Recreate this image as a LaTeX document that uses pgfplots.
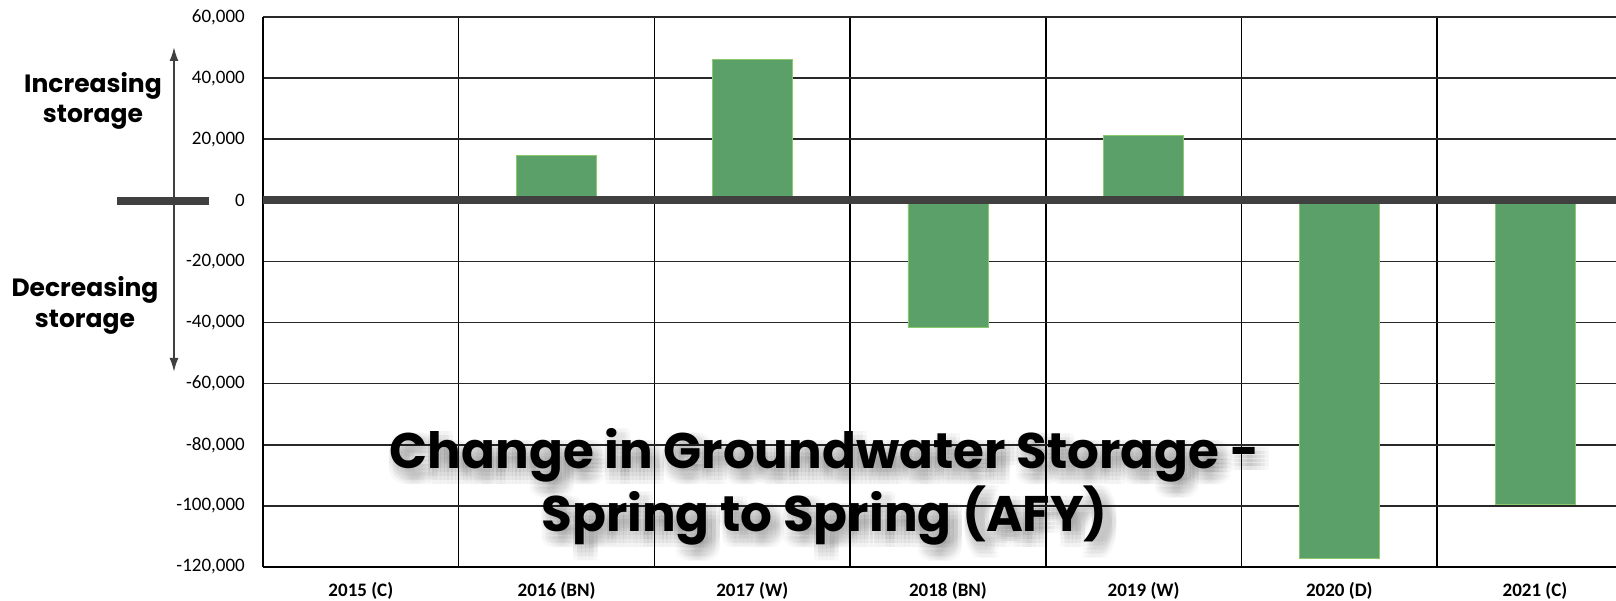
\documentclass[border=0pt]{standalone}
\usepackage{fontspec}
\setmainfont{Carlito}
\newfontfamily\gothic{Poppins}
\usepackage{pgfplots}
\pgfplotsset{compat=1.18}
\usetikzlibrary{arrows.meta}

\definecolor{barg}{RGB}{91,160,104}
\definecolor{zline}{RGB}{64,64,64}
\definecolor{gridc}{RGB}{40,40,40}

\begin{document}
\begin{tikzpicture}
\begin{axis}[
  at={(0pt,0pt)}, anchor=south west,
  width=1353pt, height=550pt,
  scale only axis,
  xmin=-0.5, xmax=6.4137,
  ymin=-120000, ymax=60000,
  scaled y ticks=false,
  axis x line*=bottom, axis y line*=left,
  axis line style={-, line width=1.6pt, black},
  every outer x axis line/.append style={-},
  every outer y axis line/.append style={-},
  xtick={0,...,6},
  xticklabels={2015 (C),2016 (BN),2017 (W),2018 (BN),2019 (W),2020 (D),2021 (C)},
  minor xtick={0.5,1.5,...,5.5},
  xminorgrids,
  ytick={-120000,-100000,...,60000},
  yticklabels={{-120,000},{-100,000},{-80,000},{-60,000},{-40,000},{-20,000},{0},{20,000},{40,000},{60,000}},
  ymajorgrids,
  major grid style={line width=1.6pt, gridc},
  minor grid style={line width=1.6pt, black},
  major tick length=0pt, minor tick length=0pt,
  yticklabel style={font=\fontsize{19}{19}\selectfont, inner sep=0pt, xshift=-18pt},
  xticklabel style={font=\fontsize{19}{19}\selectfont\bfseries, inner sep=0pt, anchor=base, yshift=-30pt},
  clip=false,
]
\addplot[ybar, bar width=80pt, fill=barg, draw={rgb,255:red,140;green,200;blue,110}, line width=0.8pt]
  coordinates {(1,14600) (2,46000) (3,-41500) (4,21100) (5,-117300) (6,-99500)};
\draw[line width=8pt, zline] (axis cs:-0.5,0) -- (axis cs:6.4137,0);
\end{axis}

% zero marker and direction arrow on the left
\draw[line width=8pt, zline] (-146pt,366pt) -- (-54pt,366pt);
\draw[line width=2pt, zline, {Latex[length=14pt,width=9pt]}-{Latex[length=14pt,width=9pt]}] (-89pt,520pt) -- (-89pt,195pt);

\begin{scope}[every node/.style={inner sep=0pt, anchor=base, font=\gothic\bfseries\fontsize{25}{25}\selectfont}]
\node at (-170pt,474pt) {Increasing};
\node at (-170pt,444pt) {storage};
\node at (-178pt,270pt) {Decreasing};
\node at (-178pt,239pt) {storage};
\end{scope}

% title with soft shadow
\begin{scope}[every node/.style={inner sep=0pt, anchor=base, font=\gothic\bfseries\fontsize{50}{50}\selectfont}]
\foreach \dx in {-2,2,6,10,14} {
  \foreach \dy in {-16,-12,-8,-4,0} {
    \node[text=black, text opacity=0.022] at (561.5pt+\dx pt,98pt+\dy pt) {Change in Groundwater Storage -};
    \node[text=black, text opacity=0.022] at (561.5pt+\dx pt,35pt+\dy pt) {Spring to Spring (AFY)};
  }
}
\node at (561.5pt,98pt) {Change in Groundwater Storage -};
\node at (561.5pt,35pt) {Spring to Spring (AFY)};
\end{scope}

\pgfresetboundingbox
\path[use as bounding box] (-263pt,-34pt) rectangle (1353pt,567pt);
\end{tikzpicture}
\end{document}
